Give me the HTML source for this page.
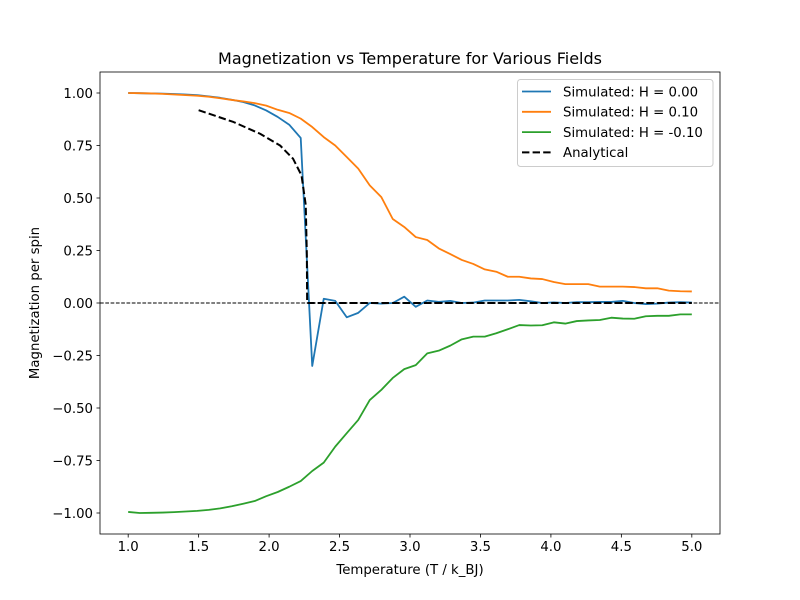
<!DOCTYPE html>
<html><head><meta charset="utf-8"><style>
html,body{margin:0;padding:0;background:#fff;width:800px;height:600px;overflow:hidden;}
svg{display:block;}
svg text{font-family:"DejaVu Sans","Liberation Sans",sans-serif;fill:#000;}
</style></head><body>
<svg id="chart" width="800" height="600" xmlns="http://www.w3.org/2000/svg">
<rect width="800" height="600" fill="#fff"/>
<g id="plot"></g>
<text x="410" y="64" text-anchor="middle" font-size="16">Magnetization vs Temperature for Various Fields</text>
<text x="410" y="574" text-anchor="middle" font-size="13.3">Temperature (T / k_BJ)</text>
<text x="0" y="0" transform="translate(39,303) rotate(-90)" text-anchor="middle" font-size="13.3">Magnetization per spin</text>
</svg>
<script>
const temps = [];
for (let i = 0; i < 50; i++) temps.push(1 + i * 4 / 49);
const magH0 = [1.0,0.999,0.998,0.997,0.995,0.993,0.99,0.984,0.977,0.968,0.957,0.941,0.917,0.886,0.849,0.786,-0.30,0.02,0.01,-0.068,-0.047,0.0,-0.003,0.0,0.03,-0.018,0.012,0.005,0.01,0.0,0.002,0.012,0.012,0.012,0.015,0.008,0.0,0.003,0.0,0.004,0.004,0.005,0.005,0.01,0.0,-0.005,-0.003,0.002,0.004,0.002];
const magHp = [1.0,0.999,0.998,0.996,0.993,0.99,0.987,0.982,0.975,0.967,0.96,0.952,0.94,0.92,0.905,0.878,0.838,0.79,0.75,0.695,0.64,0.56,0.505,0.40,0.362,0.314,0.30,0.26,0.233,0.205,0.186,0.16,0.149,0.125,0.125,0.117,0.114,0.10,0.09,0.09,0.09,0.078,0.078,0.078,0.076,0.07,0.07,0.059,0.056,0.055];
const magHm = [-0.995,-1.0,-0.999,-0.998,-0.996,-0.993,-0.99,-0.985,-0.978,-0.968,-0.956,-0.943,-0.92,-0.90,-0.875,-0.848,-0.80,-0.76,-0.684,-0.62,-0.557,-0.462,-0.414,-0.357,-0.315,-0.296,-0.24,-0.227,-0.203,-0.173,-0.16,-0.16,-0.144,-0.125,-0.105,-0.107,-0.106,-0.092,-0.098,-0.086,-0.083,-0.081,-0.07,-0.074,-0.075,-0.063,-0.061,-0.061,-0.054,-0.054];
const anaT = [1.5,1.747,1.936,2.078,2.17,2.23,2.26,2.268,2.27,2.3,3.0,4.0,5.0];
const anaM = [0.918,0.862,0.806,0.75,0.687,0.608,0.467,0.23,0.0,0.0,0.0,0.0,0.0];
const xTicks = [1.0,1.5,2.0,2.5,3.0,3.5,4.0,4.5,5.0];
const xTickLabels = ["1.0","1.5","2.0","2.5","3.0","3.5","4.0","4.5","5.0"];
const yTicks = [1.0,0.75,0.5,0.25,0.0,-0.25,-0.5,-0.75,-1.0];
const yTickLabels = ["1.00","0.75","0.50","0.25","0.00","\u22120.25","\u22120.50","\u22120.75","\u22121.00"];

const L=100,R=720,T=72,B=534,X0=0.8,X1=5.2,Y0=-1.1,Y1=1.1;
const sx=v=>L+(v-X0)/(X1-X0)*(R-L);
const sy=v=>B-(v-Y0)/(Y1-Y0)*(B-T);
const NS="http://www.w3.org/2000/svg";
const g=document.getElementById('plot');
function mk(tag,attrs,parent){const e=document.createElementNS(NS,tag);for(const k in attrs)e.setAttribute(k,attrs[k]);(parent||g).appendChild(e);return e;}

let z=mk('line',{x1:L,x2:R,y1:sy(0),y2:sy(0),stroke:'#000','stroke-width':1,'stroke-dasharray':'3.7,1.6'});



function series(xs,ys,color,name,dash){
  const d=xs.map((x,i)=>(i?'L':'M')+sx(x).toFixed(2)+','+sy(ys[i]).toFixed(2)).join('');
  const p=mk('path',{d:d,fill:'none',stroke:color,'stroke-width':dash?2:1.8,'stroke-linejoin':'round'});
  if(dash)p.setAttribute('stroke-dasharray','7.4,3.2');
  
  
}
series(temps,magH0,'#1f77b4','series-h-0.00');
series(temps,magHp,'#ff7f0e','series-h-0.10');
series(temps,magHm,'#2ca02c','series-h-neg-0.10');
series(anaT,anaM,'#000','series-analytical',true);

let fr=mk('rect',{x:L,y:T,width:R-L,height:B-T,fill:'none',stroke:'#000','stroke-width':0.8});



xTicks.forEach((v,i)=>{
  const x=sx(v);
  mk('line',{x1:x,x2:x,y1:B,y2:B+3.5,stroke:'#000','stroke-width':0.8});
  const t=mk('text',{x:x,y:B+17,'text-anchor':'middle','font-size':'13.3'});
  t.textContent=xTickLabels[i];
  
  
});
yTicks.forEach((v,i)=>{
  const y=sy(v);
  mk('line',{x1:L-3.5,x2:L,y1:y,y2:y,stroke:'#000','stroke-width':0.8});
  const t=mk('text',{x:L-7,y:y+4.8,'text-anchor':'end','font-size':'13.3'});
  t.textContent=yTickLabels[i];
  
  
});

const lg=mk('g',{});


mk('rect',{x:517.5,y:79.5,width:195.5,height:87,rx:3,fill:'#fff','fill-opacity':0.8,stroke:'#ccc','stroke-width':1},lg);
const legNames=['Simulated: H = 0.00','Simulated: H = 0.10','Simulated: H = -0.10','Analytical'];
const legColors=['#1f77b4','#ff7f0e','#2ca02c','#000'];
legNames.forEach((n,i)=>{
  const y=91.5+i*20.3;
  const e=mk('g',{},lg);
  
  
  const l=mk('line',{x1:522,x2:551,y1:y,y2:y,stroke:legColors[i],'stroke-width':i==3?2:1.8},e);
  if(i==3)l.setAttribute('stroke-dasharray','7.4,3.2');
  const t=mk('text',{x:563,y:y+4.8,'font-size':'13.3'},e);
  t.textContent=n;
});
</script>
</body></html>
